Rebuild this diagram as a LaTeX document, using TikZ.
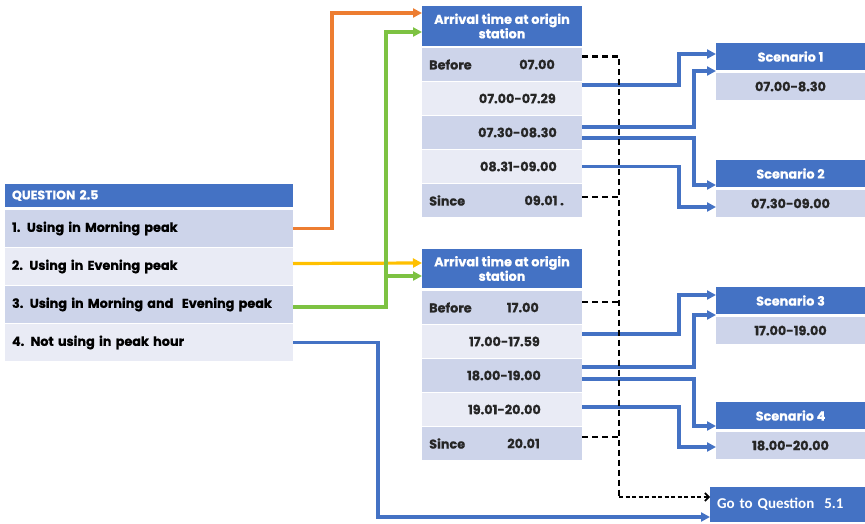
\documentclass[tikz,border=0pt]{standalone}
\usepackage{fontspec}
\setmainfont{Poppins}[BoldFeatures={FakeBold=0.6}]
\newfontfamily\gofont{Carlito}
\usetikzlibrary{arrows.meta}

\definecolor{hdr}{HTML}{4472C4}
\definecolor{rowdark}{HTML}{CDD4EA}
\definecolor{rowlight}{HTML}{E9EBF5}
\definecolor{lnblue}{HTML}{4472C4}
\definecolor{lnorange}{HTML}{ED7D31}
\definecolor{lnyellow}{HTML}{FFC000}
\definecolor{lngreen}{HTML}{7DC242}

\tikzset{
  box/.style={anchor=north west, inner sep=0pt, outer sep=0pt, draw=none},
  lbl/.style={font=\bfseries\fontsize{12.8}{14.5}\selectfont},
  hdrbox/.style={box, lbl, fill=hdr, text=white, align=center},
  dark/.style={box, fill=rowdark},
  light/.style={box, fill=rowlight},
  cell/.style={minimum width=160pt, minimum height=33pt},
  qrow/.style={lbl, minimum width=288pt, minimum height=37pt, text width=274pt, inner xsep=7pt, align=left},
  scen/.style={minimum width=149pt, minimum height=27pt},
  txt/.style={lbl, inner sep=0pt, text=black!85},
  conn/.style={line width=3.2pt, -{Triangle[length=9pt,width=9pt]}},
  dsh/.style={line width=2.2pt, black, dash pattern=on 6pt off 4pt},
}

\begin{document}
\begin{tikzpicture}[x=1pt, y=-1pt]
\useasboundingbox (0,0) rectangle (865,524);

% question table
\node[hdrbox, minimum width=288pt, minimum height=23pt, text width=274pt, inner xsep=7pt, align=left, font=\bfseries\fontsize{12.5}{14}\selectfont] (q) at (5,184) {QUESTION 2.5};
\node[dark, qrow]  (r1) at (5,210) {1. Using in Morning peak};
\node[light, qrow] (r2) at (5,248) {2. Using in Evening peak};
\node[dark, qrow]  (r3) at (5,286) {3. Using in Morning and\ \ Evening peak};
\node[light, qrow] (r4) at (5,324) {4. Not using in peak hour};

% morning arrival table
\node[hdrbox, minimum width=160pt, minimum height=40pt] (h1) at (422,6) {Arrival time at origin\\station};
\node[dark, cell]  (a0) at (422,48)  {};
\node[light, cell] (a1) at (422,82)  {};
\node[dark, cell]  (a2) at (422,116) {};
\node[light, cell] (a3) at (422,150) {};
\node[dark, cell]  (a4) at (422,184) {};
\node[txt, anchor=west] (a0l) at ([xshift=7pt]a0.west) {Before};
\node[txt, anchor=east] (a0r) at ([xshift=-27pt]a0.east) {07.00};
\node[txt, anchor=east] (a1r) at ([xshift=-26pt]a1.east) {07.00-07.29};
\node[txt, anchor=east] (a2r) at ([xshift=-25pt]a2.east) {07.30-08.30};
\node[txt, anchor=east] (a3r) at ([xshift=-25pt]a3.east) {08.31-09.00};
\node[txt, anchor=west] (a4l) at ([xshift=7pt]a4.west) {Since};
\node[txt, anchor=east] (a4r) at ([xshift=-18pt]a4.east) {09.01 .};

% evening arrival table
\node[hdrbox, minimum width=160pt, minimum height=39pt] (h2) at (422,249) {Arrival time at origin\\station};
\node[dark, cell]  (b0) at (422,291) {};
\node[light, cell] (b1) at (422,325) {};
\node[dark, cell]  (b2) at (422,359) {};
\node[light, cell] (b3) at (422,393) {};
\node[dark, cell]  (b4) at (422,427) {};
\node[txt, anchor=west] (b0l) at ([xshift=7pt]b0.west) {Before};
\node[txt, anchor=east] (b0r) at ([xshift=-43pt]b0.east) {17.00};
\node[txt, anchor=east] (b1r) at ([xshift=-42pt]b1.east) {17.00-17.59};
\node[txt, anchor=east] (b2r) at ([xshift=-41pt]b2.east) {18.00-19.00};
\node[txt, anchor=east] (b3r) at ([xshift=-41pt]b3.east) {19.01-20.00};
\node[txt, anchor=west] (b4l) at ([xshift=7pt]b4.west) {Since};
\node[txt, anchor=east] (b4r) at ([xshift=-42pt]b4.east) {20.01};

% scenarios
\node[hdrbox, scen] (s1h) at (716,43)  {Scenario 1};
\node[dark, scen, lbl, text=black!85] (s1c) at (716,73)  {07.00-8.30};
\node[hdrbox, scen] (s2h) at (716,160) {Scenario 2};
\node[dark, scen, lbl, text=black!85] (s2c) at (716,190) {07.30-09.00};
\node[hdrbox, scen] (s3h) at (716,287) {Scenario 3};
\node[dark, scen, lbl, text=black!85] (s3c) at (716,317) {17.00-19.00};
\node[hdrbox, scen] (s4h) at (716,402) {Scenario 4};
\node[dark, scen, lbl, text=black!85] (s4c) at (716,432) {18.00-20.00};

% exit
\node[box, fill=hdr, text=white, minimum width=155pt, minimum height=35pt, text width=141pt, inner xsep=7pt, align=left, font=\gofont\bfseries\fontsize{15}{17}\selectfont] (go) at (710,487) {Go to Question\ \ 5.1};

% answers to arrival tables
\draw[conn, lnorange] (r1.east) -- ++(39,0) |- ([yshift=-7pt]h1.north west);
\draw[conn, lnyellow] ([yshift=3pt]r2.east) -- ([yshift=-14pt]h2.north west);
\coordinate (gx) at (386,0);
\draw[conn, lngreen] ([yshift=-2.5pt]r3.east) -| (gx |- 0,100) |- ([yshift=-26pt]h1.north west);
\draw[conn, lngreen] (gx |- 0,276) -- ([yshift=-27pt]h2.north west);
\draw[conn, lnblue] (r4.east) -- ++(85,0) |- ([yshift=5pt]go.south west);

% morning ranges to scenarios
\draw[conn, lnblue] ([yshift=13.5pt]a1.east) -- ++(97,0) |- ([yshift=-11pt]s1h.north west);
\draw[conn, lnblue] ([yshift=5.5pt]a2.east) -- ++(112,0) |- ([yshift=-1pt]s1h.south west);
\draw[conn, lnblue] ([yshift=-5.5pt]a2.east) -- ++(112,0) |- ([yshift=2pt]s2h.south west);
\draw[conn, lnblue] (a3.east) -- ++(97,0) |- ([yshift=-17pt]s2c.north west);

% evening ranges to scenarios
\draw[conn, lnblue] ([yshift=7.5pt]b1.east) -- ++(97,0) |- ([yshift=-8pt]s3h.north west);
\draw[conn, lnblue] ([yshift=8.5pt]b2.east) -- ++(112,0) |- ([yshift=-1pt]s3h.south west);
\draw[conn, lnblue] ([yshift=-3.5pt]b2.east) -- ++(112,0) |- ([yshift=3pt]s4h.south west);
\draw[conn, lnblue] ([yshift=2.5pt]b3.east) -- ++(97,0) |- ([yshift=-15pt]s4c.north west);

% out-of-peak arrivals go on to the next question
\coordinate (dturn) at (619,497);
\draw[dsh] ([yshift=8pt]a0.east) -| (dturn);
\draw[dsh] ([yshift=3.5pt]a4.east) -- (dturn |- 0,197);
\draw[dsh] ([yshift=5.5pt]b0.east) -- (dturn |- 0,302);
\draw[dsh] ([yshift=6.5pt]b4.east) -- (dturn |- 0,437);
\draw[line width=1.6pt, black, dash pattern=on 4pt off 2.5pt, -{Straight Barb[length=4pt,width=8pt]}] (dturn) -- ([yshift=7.5pt]go.west);
\end{tikzpicture}
\end{document}
